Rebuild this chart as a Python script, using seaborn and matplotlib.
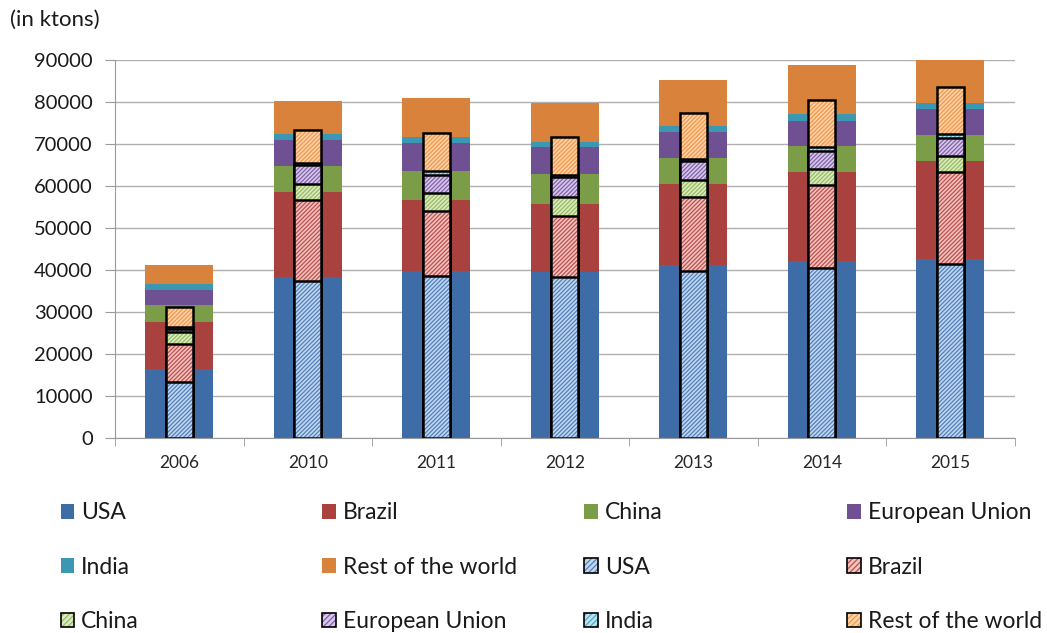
import numpy as np
import pandas as pd
import matplotlib
matplotlib.use('Agg')
import matplotlib.pyplot as plt
import seaborn as sns
from matplotlib.patches import Patch

# data (ktons)
years = ['2006', '2010', '2011', '2012', '2013', '2014', '2015']
series = ['USA', 'Brazil', 'China', 'European Union', 'India', 'Rest of the world']

# wide solid bars
usa_1 = [16400, 38400, 39800, 39600, 41200, 42100, 42600]
brazil_1 = [11300, 20100, 16900, 16100, 19200, 21300, 23400]
china_1 = [4100, 6300, 6900, 7200, 6300, 6100, 6100]
eu_1 = [3400, 6200, 6600, 6300, 6200, 6000, 6200]
india_1 = [1600, 1400, 1400, 1200, 1500, 1600, 1600]
rest_1 = [4500, 7900, 9300, 9300, 10800, 11700, 10300]

# narrow hatched bars
usa_2 = [13400, 37500, 38600, 38300, 39800, 40400, 41400]
brazil_2 = [9100, 19200, 15500, 14600, 17700, 19800, 22000]
china_2 = [2700, 3900, 4200, 4600, 3900, 3800, 3800]
eu_2 = [700, 4400, 4300, 4600, 4600, 4300, 4200]
india_2 = [500, 600, 1000, 500, 400, 900, 1000]
rest_2 = [4900, 7700, 9100, 9000, 10900, 11400, 11200]

solid_colors = ['#3e6ca6', '#a9413f', '#7b9d47', '#6e5093', '#3b97b2', '#d8823b']
light_colors = ['#c3d6ee', '#efc3bf', '#d9ebc6', '#d9c6f0', '#bfe3ee', '#fbd3ab']
hatch_colors = ['#4f81bd', '#c0504d', '#9bbb59', '#8064a2', '#4bacc6', '#f79646']
hatch = '////////'

sns.set_style('white')
plt.rcParams['font.family'] = ['Lato', 'DejaVu Sans']
plt.rcParams['hatch.linewidth'] = 0.9

df1 = pd.DataFrame({'year': years, 'USA': usa_1, 'Brazil': brazil_1, 'China': china_1,
                    'European Union': eu_1, 'India': india_1, 'Rest of the world': rest_1})
df2 = pd.DataFrame({'year': years, 'USA': usa_2, 'Brazil': brazil_2, 'China': china_2,
                    'European Union': eu_2, 'India': india_2, 'Rest of the world': rest_2})
cum1 = df1[series].cumsum(axis=1)
cum2 = df2[series].cumsum(axis=1)

fig = plt.figure(figsize=(10.47, 6.33), dpi=100)
ax = fig.add_axes([0.110, 0.308, 0.859, 0.597])

# stacked bars drawn as cumulative totals, top series first
for i in reversed(range(len(series))):
    sns.barplot(x=years, y=cum1[series[i]], order=years, color=solid_colors[i],
                width=0.53, linewidth=0, saturation=1, ax=ax)
for i in reversed(range(len(series))):
    sns.barplot(x=years, y=cum2[series[i]], order=years, color=light_colors[i],
                width=0.21, linewidth=0, saturation=1, hatch=hatch,
                edgecolor=hatch_colors[i], ax=ax)
    sns.barplot(x=years, y=cum2[series[i]], order=years, facecolor='none',
                width=0.21, linewidth=1.8, edgecolor='black', ax=ax)

ax.set_ylim(0, 90000)
ax.set_xlim(-0.5, 6.5)
ax.set_yticks(range(0, 90001, 10000))
ax.set_xlabel('')
ax.set_ylabel('')
ax.grid(axis='y', color='#b0b0b0', linewidth=1)
ax.set_axisbelow(True)
for s in ['top', 'right']:
    ax.spines[s].set_visible(False)
for s in ['left', 'bottom']:
    ax.spines[s].set_color('#9a9a9a')
ax.tick_params(axis='y', left=True, length=7, color='#9a9a9a', labelsize=14.5,
               labelcolor='#1a1a1a', pad=9)
ax.tick_params(axis='x', which='major', length=0, labelsize=12.5, labelcolor='#262626', pad=12)
ax.set_xticks(np.arange(-0.5, 7, 1), minor=True)
ax.tick_params(axis='x', which='minor', bottom=True, length=6, color='#9a9a9a')

fig.text(0.010, 0.968, '(in ktons)', fontsize=16, color='#1a1a1a', va='center', ha='left')

# legend: 4 columns, filled row by row
handles = [Patch(facecolor=c, edgecolor='none') for c in solid_colors]
handles += [(Patch(facecolor=lc, edgecolor=hc, hatch='//////', linewidth=0),
             Patch(facecolor='none', edgecolor='black', linewidth=1.2))
            for lc, hc in zip(light_colors, hatch_colors)]
labels = series + series
col_x = [0.058, 0.308, 0.558, 0.809]
for c in range(4):
    hs = [handles[r * 4 + c] for r in range(3)]
    ls = [labels[r * 4 + c] for r in range(3)]
    leg = fig.legend(hs, ls, loc='center left', bbox_to_anchor=(col_x[c], 0.104),
                     frameon=False, fontsize=16.5, handlelength=0.6, handleheight=0.6,
                     handletextpad=0.3, labelspacing=1.45, borderpad=0, borderaxespad=0)
    for t in leg.get_texts():
        t.set_color('#1a1a1a')

fig.savefig('out.png', dpi=100)
